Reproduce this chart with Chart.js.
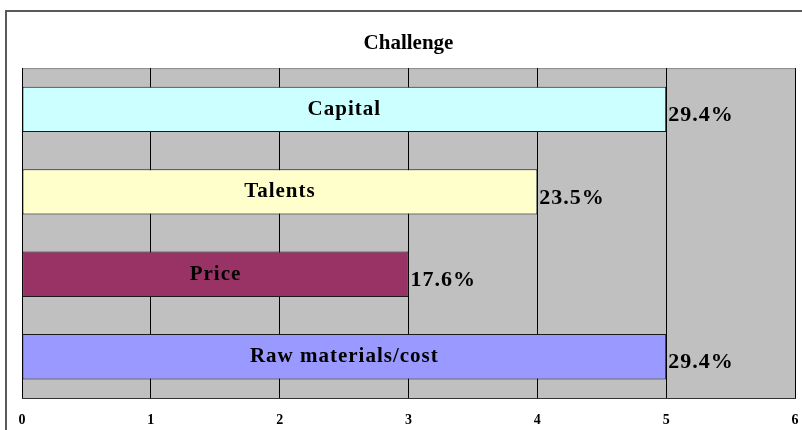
<!DOCTYPE html>
<html>
<head>
<meta charset="utf-8">
<script src="https://cdn.jsdelivr.net/npm/chart.js@4/dist/chart.umd.min.js"></script>
<style>
  body { margin: 0; background: #fff; overflow: hidden; }
  #wrap { position: relative; width: 802px; height: 430px; overflow: hidden; }
  #frame { position: absolute; left: 5px; top: 10px; width: 900px; height: 500px; border: 2px solid #5a5a5a; box-sizing: border-box; }
  #grafico { position: absolute; left: 0; top: 0; }
</style>
</head>
<body>
<div id="wrap">
  <div id="frame"></div>
  <canvas id="grafico" width="802" height="430"></canvas>
</div>
<script>
const categorias = ['Capital', 'Talents', 'Price', 'Raw materials/cost'];
const respuestas = [5, 4, 3, 5];
const colores = ['#CCFFFF', '#FFFFCC', '#993366', '#9999FF'];
const ejeX = [0, 1, 2, 3, 4, 5, 6];

const total = respuestas.reduce((a, b) => a + b, 0);
const fuente = "'Liberation Serif', 'Times New Roman', serif";

// fondo gris del área de trazado
const fondoPlot = {
  id: 'fondoPlot',
  beforeDraw(chart) {
    const { ctx, chartArea: a } = chart;
    ctx.save();
    ctx.fillStyle = '#C0C0C0';
    ctx.fillRect(a.left, a.top, a.right - a.left, a.bottom - a.top);
    ctx.strokeStyle = '#8a8a8a';
    ctx.lineWidth = 1;
    ctx.strokeRect(a.left + 0.5, a.top + 0.5, a.right - a.left, a.bottom - a.top);
    ctx.restore();
  }
};

// nombres dentro de cada barra y porcentaje a la derecha
const etiquetas = {
  id: 'etiquetas',
  afterDatasetsDraw(chart) {
    const { ctx } = chart;
    const meta = chart.getDatasetMeta(0);
    ctx.save();
    ctx.fillStyle = '#000';
    ctx.textBaseline = 'middle';
    ctx.letterSpacing = '1px';
    meta.data.forEach((bar, i) => {
      ctx.font = 'bold 21px ' + fuente;
      ctx.textAlign = 'center';
      ctx.fillText(categorias[i], (bar.base + bar.x) / 2, bar.y);
      ctx.font = 'bold 22px ' + fuente;
      ctx.textAlign = 'left';
      const pct = (respuestas[i] / total * 100).toFixed(1) + '%';
      ctx.fillText(pct, bar.x + 2, bar.y + 6);
    });
    ctx.restore();
  }
};

new Chart(document.getElementById('grafico'), {
  type: 'bar',
  data: {
    labels: categorias,
    datasets: [{
      data: respuestas,
      backgroundColor: colores,
      borderColor: '#1a1a1a',
      borderWidth: 1,
      borderSkipped: false,
      barPercentage: 0.55,
      categoryPercentage: 1
    }]
  },
  options: {
    indexAxis: 'y',
    responsive: false,
    animation: false,
    layout: { padding: { top: 32, left: 22, right: 7, bottom: 3 } },
    plugins: {
      legend: { display: false },
      tooltip: { enabled: false },
      title: {
        display: true,
        text: 'Challenge',
        color: '#000',
        font: { family: fuente, size: 21, weight: 'bold', lineHeight: 1.1 },
        padding: { top: 0, bottom: 13 }
      }
    },
    scales: {
      x: {
        min: ejeX[0],
        max: ejeX[ejeX.length - 1],
        afterBuildTicks(axis) {
          axis.ticks = ejeX.map(v => ({ value: v }));
        },
        afterFit(axis) {
          axis.height = 29;
          axis.paddingLeft = 0;
          axis.paddingRight = 0;
        },
        grid: { color: '#000', lineWidth: 1, drawTicks: false },
        border: { color: '#333', width: 1 },
        ticks: {
          color: '#000',
          padding: 14,
          maxRotation: 0,
          font: { family: fuente, size: 14, weight: 'bold' }
        }
      },
      y: { display: false }
    }
  },
  plugins: [fondoPlot, etiquetas]
});
</script>
</body>
</html>
